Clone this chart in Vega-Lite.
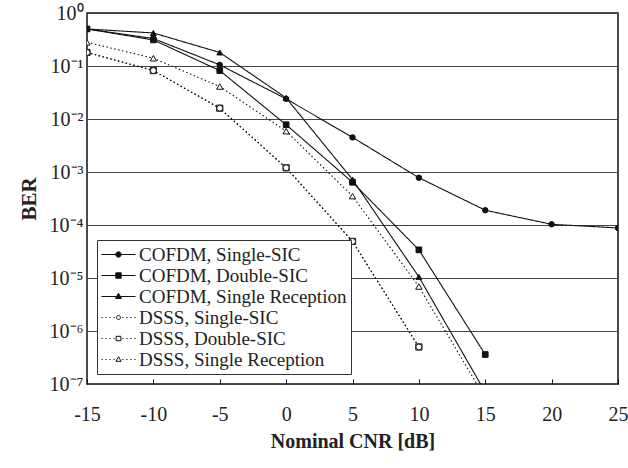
{
  "$schema": "https://vega.github.io/schema/vega-lite/v6.json",
  "width": 531,
  "height": 371,
  "autosize": {"type": "none"},
  "padding": {"left": 87, "top": 13, "right": 10, "bottom": 84},
  "background": "white",
  "config": {
    "view": {"stroke": "#111", "strokeWidth": 1.5},
    "font": "'Liberation Serif', 'Times New Roman', serif"
  },
  "data": {
    "values": [
      {"series": "COFDM, Single-SIC", "cnr": -15, "ber": 0.5},
      {"series": "COFDM, Single-SIC", "cnr": -10, "ber": 0.33},
      {"series": "COFDM, Single-SIC", "cnr": -5, "ber": 0.105},
      {"series": "COFDM, Single-SIC", "cnr": 0, "ber": 0.024},
      {"series": "COFDM, Single-SIC", "cnr": 5, "ber": 0.0045},
      {"series": "COFDM, Single-SIC", "cnr": 10, "ber": 0.00078},
      {"series": "COFDM, Single-SIC", "cnr": 15, "ber": 0.00019},
      {"series": "COFDM, Single-SIC", "cnr": 20, "ber": 0.000103},
      {"series": "COFDM, Single-SIC", "cnr": 25, "ber": 0.000088},
      {"series": "COFDM, Double-SIC", "cnr": -15, "ber": 0.5},
      {"series": "COFDM, Double-SIC", "cnr": -10, "ber": 0.31},
      {"series": "COFDM, Double-SIC", "cnr": -5, "ber": 0.082},
      {"series": "COFDM, Double-SIC", "cnr": 0, "ber": 0.0078},
      {"series": "COFDM, Double-SIC", "cnr": 5, "ber": 0.00064},
      {"series": "COFDM, Double-SIC", "cnr": 10, "ber": 0.000034},
      {"series": "COFDM, Double-SIC", "cnr": 15, "ber": 0.00000036},
      {"series": "COFDM, Single Reception", "cnr": -15, "ber": 0.5},
      {"series": "COFDM, Single Reception", "cnr": -10, "ber": 0.42},
      {"series": "COFDM, Single Reception", "cnr": -5, "ber": 0.18},
      {"series": "COFDM, Single Reception", "cnr": 0, "ber": 0.025},
      {"series": "COFDM, Single Reception", "cnr": 5, "ber": 0.00072},
      {"series": "COFDM, Single Reception", "cnr": 10, "ber": 0.0000105},
      {"series": "COFDM, Single Reception", "cnr": 15, "ber": 0.00000007},
      {"series": "DSSS, Double-SIC", "cnr": -15, "ber": 0.18},
      {"series": "DSSS, Double-SIC", "cnr": -10, "ber": 0.082},
      {"series": "DSSS, Double-SIC", "cnr": -5, "ber": 0.016},
      {"series": "DSSS, Double-SIC", "cnr": 0, "ber": 0.0012},
      {"series": "DSSS, Double-SIC", "cnr": 5, "ber": 0.000049},
      {"series": "DSSS, Double-SIC", "cnr": 10, "ber": 0.0000005},
      {"series": "DSSS, Single-SIC", "cnr": -15, "ber": 0.18},
      {"series": "DSSS, Single-SIC", "cnr": -10, "ber": 0.082},
      {"series": "DSSS, Single-SIC", "cnr": -5, "ber": 0.016},
      {"series": "DSSS, Single-SIC", "cnr": 0, "ber": 0.0012},
      {"series": "DSSS, Single-SIC", "cnr": 5, "ber": 0.000049},
      {"series": "DSSS, Single-SIC", "cnr": 10, "ber": 0.0000005},
      {"series": "DSSS, Single Reception", "cnr": -15, "ber": 0.28},
      {"series": "DSSS, Single Reception", "cnr": -10, "ber": 0.14},
      {"series": "DSSS, Single Reception", "cnr": -5, "ber": 0.041},
      {"series": "DSSS, Single Reception", "cnr": 0, "ber": 0.0059},
      {"series": "DSSS, Single Reception", "cnr": 5, "ber": 0.00035},
      {"series": "DSSS, Single Reception", "cnr": 10, "ber": 0.0000069},
      {"series": "DSSS, Single Reception", "cnr": 15, "ber": 0.000000054}
    ]
  },
  "encoding": {
    "x": {
      "field": "cnr", "type": "quantitative",
      "scale": {"domain": [-15, 25], "nice": false, "zero": false},
      "axis": {
        "values": [-15, -10, -5, 0, 5, 10, 15, 20, 25],
        "grid": false, "domain": false,
        "tickSize": -5, "tickColor": "#111", "tickWidth": 1,
        "labelExpr": "datum.value < 0 ? '-' + abs(datum.value) : '' + datum.value",
        "labelFont": "'Liberation Serif', 'Times New Roman', serif",
        "labelFontSize": 20, "labelColor": "#222", "labelPadding": 25, "labelFlush": false,
        "title": "Nominal CNR [dB]", "titleFont": "'Liberation Serif', 'Times New Roman', serif",
        "titleFontSize": 20, "titleFontWeight": "bold",
        "titleColor": "#222", "titlePadding": 7
      }
    },
    "y": {
      "field": "ber", "type": "quantitative",
      "scale": {"type": "log", "domain": [1e-7, 1], "nice": false},
      "axis": {
        "values": [1e-7, 1e-6, 1e-5, 1e-4, 1e-3, 1e-2, 1e-1, 1],
        "grid": true, "gridColor": "#444", "gridWidth": 1, "gridOpacity": 1,
        "ticks": false, "domain": false,
        "labelExpr": "'10' + (datum.value >= 0.5 ? '⁰' : '⁻' + ['⁰','¹','²','³','⁴','⁵','⁶','⁷'][round(-log(datum.value)/LN10)])",
        "labelFont": "'Liberation Serif', 'Times New Roman', serif",
        "labelFontSize": 20, "labelColor": "#222", "labelPadding": 4,
        "title": "BER", "titleFont": "'Liberation Serif', 'Times New Roman', serif",
        "titleFontSize": 21, "titleFontWeight": "bold",
        "titleColor": "#222", "titlePadding": 10
      }
    }
  },
  "layer": [
    {
      "mark": {"type": "line", "clip": true, "color": "#111", "strokeWidth": 1.1},
      "encoding": {
        "detail": {"field": "series"},
        "strokeDash": {
          "field": "series",
          "scale": {
            "domain": ["COFDM, Single-SIC", "COFDM, Double-SIC", "COFDM, Single Reception", "DSSS, Single-SIC", "DSSS, Double-SIC", "DSSS, Single Reception"],
            "range": [[1, 0], [1, 0], [1, 0], [1.5, 2.5], [1.5, 2.5], [1.5, 2.5]]
          },
          "legend": null
        }
      }
    },
    {
      "mark": {"type": "point", "clip": true, "filled": true, "stroke": "#111", "strokeWidth": 1, "opacity": 1},
      "encoding": {
        "shape": {
          "field": "series",
          "scale": {
            "domain": ["COFDM, Single-SIC", "COFDM, Double-SIC", "COFDM, Single Reception", "DSSS, Single-SIC", "DSSS, Double-SIC", "DSSS, Single Reception"],
            "range": ["circle", "square", "triangle-up", "circle", "square", "triangle-up"]
          },
          "legend": null
        },
        "fill": {
          "field": "series",
          "scale": {
            "domain": ["COFDM, Single-SIC", "COFDM, Double-SIC", "COFDM, Single Reception", "DSSS, Single-SIC", "DSSS, Double-SIC", "DSSS, Single Reception"],
            "range": ["#111", "#111", "#111", "white", "white", "white"]
          },
          "legend": null
        },
        "size": {
          "field": "series",
          "scale": {
            "domain": ["COFDM, Single-SIC", "COFDM, Double-SIC", "COFDM, Single Reception", "DSSS, Single-SIC", "DSSS, Double-SIC", "DSSS, Single Reception"],
            "range": [30, 40, 40, 8, 26, 26]
          },
          "legend": null
        }
      }
    },
    {
      "transform": [{"filter": "false"}],
      "mark": {"type": "point", "filled": false, "color": "#111", "strokeWidth": 1, "opacity": 1},
      "encoding": {
        "shape": {
          "field": "series",
          "scale": {
            "domain": ["COFDM, Single-SIC", "COFDM, Double-SIC", "COFDM, Single Reception", "DSSS, Single-SIC", "DSSS, Double-SIC", "DSSS, Single Reception"],
            "range": [
              "M-1,0H2.4M0.43,0A0.27,0.27 0 1,0 0.97,0A0.27,0.27 0 1,0 0.43,0Z",
              "M-1,0H2.4M0.43,-0.27H0.97V0.27H0.43Z",
              "M-1,0H2.4M0.7,-0.33L1,0.2L0.4,0.2Z",
              "M-1,0h0.12M-0.6,0h0.12M-0.2,0h0.12M0.2,0h0.12M1.08,0h0.12M1.48,0h0.12M1.88,0h0.12M2.28,0h0.12M0.5,0A0.2,0.2 0 1,0 0.9,0A0.2,0.2 0 1,0 0.5,0Z",
              "M-1,0h0.12M-0.6,0h0.12M-0.2,0h0.12M0.2,0h0.12M1.08,0h0.12M1.48,0h0.12M1.88,0h0.12M2.28,0h0.12M0.46,-0.22H0.94V0.22H0.46Z",
              "M-1,0h0.12M-0.6,0h0.12M-0.2,0h0.12M0.2,0h0.12M1.08,0h0.12M1.48,0h0.12M1.88,0h0.12M2.28,0h0.12M0.7,-0.28L0.96,0.18L0.44,0.18Z"
            ]
          },
          "legend": {
            "title": null, "orient": "bottom-left", "offset": 10, "padding": 4,
            "strokeColor": "#333", "fillColor": "white",
            "labelFont": "'Liberation Serif', 'Times New Roman', serif", "labelFontSize": 19, "labelColor": "#222",
            "labelLimit": 400, "labelOffset": 17, "rowPadding": -2,
            "symbolSize": 400, "symbolStrokeWidth": 1, "symbolStrokeColor": "#111", "symbolOpacity": 1,
            "encode": {"symbols": {"update": {"stroke": {"value": "#111"}, "strokeWidth": {"value": 1}, "opacity": {"value": 1}}}}
          }
        },
        "fill": {
          "field": "series",
          "scale": {
            "domain": ["COFDM, Single-SIC", "COFDM, Double-SIC", "COFDM, Single Reception", "DSSS, Single-SIC", "DSSS, Double-SIC", "DSSS, Single Reception"],
            "range": ["#111", "#111", "#111", "white", "white", "white"]
          },
          "legend": {
            "title": null, "orient": "bottom-left", "offset": 10, "padding": 4,
            "strokeColor": "#333", "fillColor": "white",
            "labelFont": "'Liberation Serif', 'Times New Roman', serif", "labelFontSize": 19, "labelColor": "#222",
            "labelLimit": 400, "labelOffset": 17, "rowPadding": -2,
            "symbolSize": 400, "symbolStrokeWidth": 1, "symbolStrokeColor": "#111", "symbolOpacity": 1,
            "encode": {"symbols": {"update": {"stroke": {"value": "#111"}, "strokeWidth": {"value": 1}, "opacity": {"value": 1}}}}
          }
        }
      }
    }
  ],
  "resolve": {
    "scale": {"shape": "independent", "fill": "independent", "size": "independent", "strokeDash": "independent"}
  }
}
